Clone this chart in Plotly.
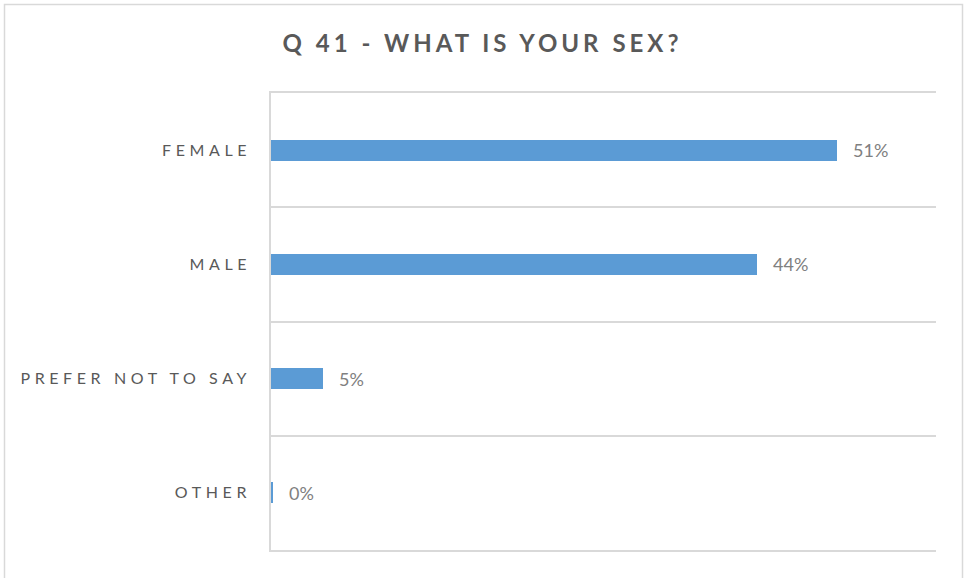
import plotly.graph_objects as go

categories = ["FEMALE", "MALE", "PREFER NOT TO SAY", "OTHER"]
values = [0.511, 0.4385, 0.047, 0.0018]
title_text = "Q 41 - WHAT IS YOUR SEX?"

FONT = "Lato"
GRAY = "#595959"
LABEL_GRAY = "#808080"
GRID = "#d9d9d9"

W, H = 965, 578
L, R, T, B = 271, 29, 93, 28
pw, ph = W - L - R, H - T - B

def spaced(s, px):
    return f'<span style="letter-spacing:{px}px">{s}</span>'

fig = go.Figure()
fig.add_trace(go.Bar(
    x=values, y=categories, orientation="h",
    marker=dict(color="#5b9bd5", line=dict(width=0)),
    width=0.185, hoverinfo="skip",
))

for c, v in zip(categories, values):
    fig.add_annotation(x=v, y=c, xref="x", yref="y", text=f"{v:.0%}",
                       showarrow=False, xanchor="left", yanchor="middle",
                       xshift=14, font=dict(family=FONT, size=18, color=LABEL_GRAY))

# outer chart border
fig.add_shape(type="rect", xref="paper", yref="paper",
              x0=(4.5 - L) / pw, x1=(962.5 - L) / pw,
              y0=-(600 - (H - B)) / ph, y1=((H - B) - 4.5) / ph,
              line=dict(color=GRID, width=1.5), fillcolor="rgba(0,0,0,0)", layer="below")

fig.update_layout(
    width=W, height=H,
    margin=dict(l=L, r=R, t=T, b=B, autoexpand=False),
    paper_bgcolor="white", plot_bgcolor="white",
    showlegend=False,
    title=dict(text="<b>" + spaced(title_text, 4) + "</b>", x=0.5, xref="container",
               y=1 - 44 / H, yref="container", yanchor="middle",
               font=dict(family=FONT, size=24, color=GRAY)),
    bargap=0,
    xaxis=dict(range=[0, 0.6], showgrid=False, zeroline=False,
               showticklabels=False, showline=True, mirror=True,
               linecolor=GRID, linewidth=1.5, ticks="",
               fixedrange=True, automargin=False),
    yaxis=dict(categoryorder="array", categoryarray=categories,
               range=[3.5, -0.5], tickson="boundaries", automargin=False,
               showgrid=True, gridcolor=GRID, gridwidth=1.5,
               showline=True, linecolor=GRID, linewidth=1.5,
               ticks="", tickmode="array", tickvals=categories,
               ticktext=[spaced(c, 4.6) for c in categories],
               ticklabelstandoff=15, fixedrange=True,
               tickfont=dict(family=FONT, size=16, color=GRAY)),
)

fig.write_html("out.html", config={"displayModeBar": False},
               post_script="document.body.style.margin='0';")
